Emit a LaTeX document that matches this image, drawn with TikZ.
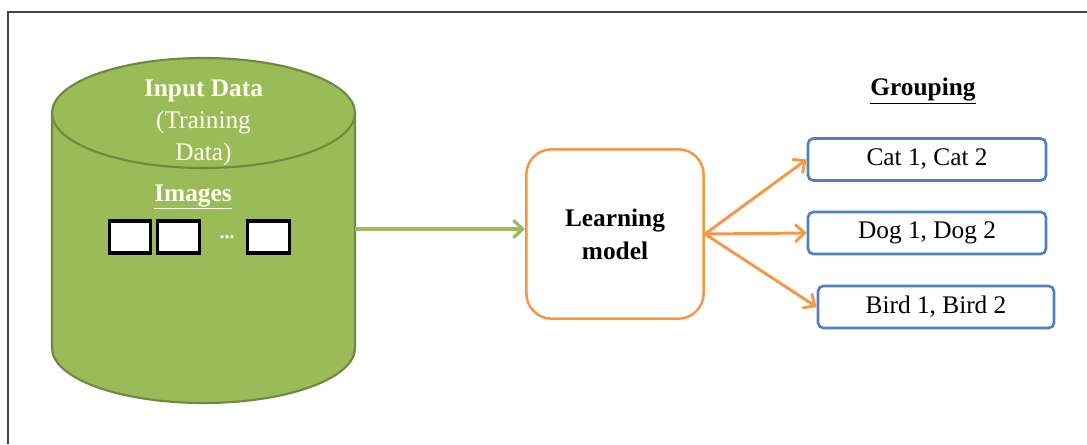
\documentclass[tikz,border=0pt]{standalone}
\usepackage{fontspec}
\setmainfont{Liberation Serif}
\usetikzlibrary{arrows.meta}
\definecolor{cylfill}{HTML}{9BBB59}
\definecolor{cyldraw}{HTML}{71893F}
\definecolor{orng}{HTML}{F79646}
\definecolor{blu}{HTML}{4F81BD}
\definecolor{cream}{HTML}{FFFFF2}
\definecolor{framegray}{HTML}{444444}
\tikzset{
  txt/.style={font=\fontsize{19}{24}\selectfont, inner sep=0pt, align=center},
  imgbox/.style={draw=black, fill=white, line width=2.3pt, minimum width=31pt, minimum height=24pt, inner sep=0pt},
  groupbox/.style={draw=blu, line width=2pt, rounded corners=4pt, fill=white, txt, text=black, minimum height=31.5pt},
  orarrow/.style={draw=orng, line width=2.2pt, -{Straight Barb[length=7pt,width=13pt]}},
  grarrow/.style={draw=cylfill, line width=2.4pt, -{Straight Barb[length=7pt,width=13pt]}}
}
\begin{document}
\begin{tikzpicture}[x=0.75pt,y=0.75pt]
\useasboundingbox (0,0) rectangle (1087,444);
% frame
\draw[framegray, line width=1pt] (8,0) -- (8,432) -- (1087,432);
% cylinder
\draw[cyldraw, fill=cylfill, line width=1.6pt]
  (52,331) -- (52,96) arc[start angle=180,end angle=360,x radius=151.5,y radius=55] -- (355,331) -- cycle;
\draw[cyldraw, fill=cylfill, line width=1.6pt] (203.5,331) ellipse[x radius=151.5, y radius=55];
\node[txt, text=cream] (inp) at (203.5,321) {\textbf{Input Data}\\(Training\\Data)};
\node[txt, text=cream, font=\fontsize{19}{24}\selectfont\bfseries] (imgs) at (193,247) {\underline{Images}};
\node[imgbox] (b1) at (130,207) {};
\node[imgbox] (b2) at (178.5,207) {};
\node[txt, text=cream, font=\fontsize{15}{16}\selectfont\bfseries] (dots) at (227,207) {...};
\node[imgbox] (b3) at (268.5,207) {};
\coordinate (cylR) at (355,215);
% learning model
\node[draw=orng, line width=1.9pt, rounded corners=19pt, minimum width=133pt, minimum height=127pt,
      txt, font=\fontsize{19}{25}\selectfont\bfseries] (model) at (615,210) {Learning\\model};
\draw[grarrow] (cylR) -- (cylR -| model.west);
% grouping
\node[txt, font=\fontsize{19}{24}\selectfont\bfseries] (grp) at (923,353) {\underline{Grouping}};
\node[groupbox, minimum width=178.5pt] (cat) at (927,284.5) {Cat 1, Cat 2};
\node[groupbox, minimum width=178.5pt] (dog) at (927,211) {Dog 1, Dog 2};
\node[groupbox, minimum width=177pt] (bird) at (936,137) {Bird 1, Bird 2};
\draw[orarrow] (model.east) -- (cat.west);
\draw[orarrow] (model.east) -- (dog.west);
\draw[orarrow] (model.east) -- (bird.west);
\end{tikzpicture}
\end{document}
